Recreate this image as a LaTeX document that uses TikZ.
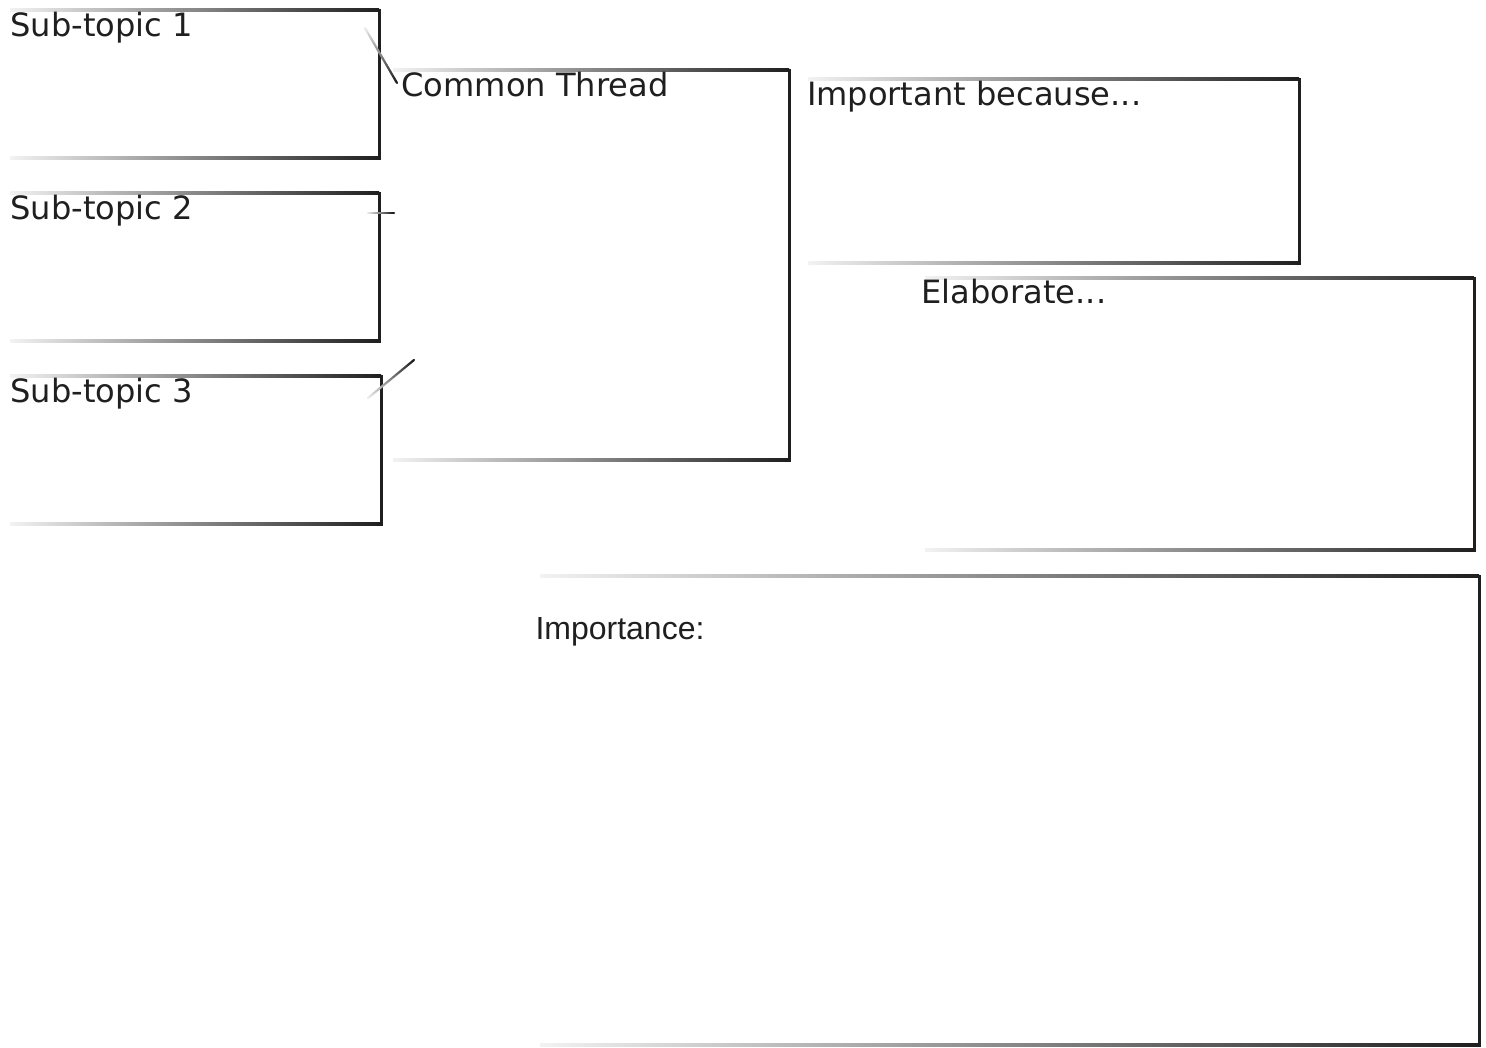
\documentclass[tikz,border=0pt]{standalone}
\usepackage{fontspec}
\setmainfont{DejaVu Sans}
\newfontfamily\arialfont{Liberation Sans}
\usetikzlibrary{calc}
\tikzset{
  boxarea/.style={draw=none, inner sep=0pt, outer sep=0pt, rectangle},
  edgeshade/.style={left color=black!5, middle color=black!40, right color=black!88},
  labeltext/.style={inner sep=0pt, outer sep=0pt, anchor=base west, font=\fontsize{32.1}{38}\selectfont, text=black!88},
  arialtext/.style={inner sep=0pt, outer sep=0pt, anchor=base west, font=\arialfont\fontsize{32}{38}\selectfont, text=black!88},
}
\newcommand\gradbox[5]{%
  \node[boxarea, minimum width={#4-#2}, minimum height={#5-#3}] (#1) at ({(#2+#4)/2},{(#3+#5)/2}) {};
  \shade[edgeshade] ($(#1.north west)+(0,-1.5)$) rectangle ($(#1.north east)+(0,1.5)$);
  \shade[edgeshade] ($(#1.south west)+(0,-1.5)$) rectangle ($(#1.south east)+(0,1.5)$);
  \fill[black!88] ($(#1.north east)+(-1.5,-1.5)$) rectangle ($(#1.south east)+(1.5,1.5)$);
}
\newcommand\gradline[2]{%
  \foreach \i in {0,...,23}{%
    \pgfmathtruncatemacro\cc{8+80*\i/23}%
    \draw[line width=2.2pt, line cap=round, black!\cc] ($(#1)!{\i/24}!(#2)$) -- ($(#1)!{(\i+1)/24}!(#2)$);
  }%
}
\begin{document}
\begin{tikzpicture}[x=1pt, y=-1pt]
  \useasboundingbox[fill=white] (0,0) rectangle (1486,1047);

  % boxes
  \gradbox{s1}{10}{10}{379}{158}
  \gradbox{s2}{10}{193}{379}{341}
  \gradbox{s3}{10}{376}{381}{524}
  \gradbox{ct}{393}{70}{789}{460}
  \gradbox{ib}{808}{79}{1299}{263}
  \gradbox{el}{925}{278}{1474}{550}
  \gradbox{im}{540}{576}{1479}{1045}

  % labels
  \node[labeltext] (t1) at (10.5,36) {Sub-topic 1};
  \node[labeltext] (t2) at (10.5,219) {Sub-topic 2};
  \node[labeltext] (t3) at (10.5,402) {Sub-topic 3};
  \node[labeltext] (tct) at (401.5,96) {Common Thread};
  \node[labeltext] (tib) at (807,105) {Important because{.}{.}{.}\kern1pt};
  \node[labeltext] (tel) at (921.5,303) {Elaborate...};
  \node[arialtext] (tim) at (535.5,639) {Importance:};

  % connectors
  \coordinate (c1a) at (365,28);
  \coordinate (c1b) at (397,83);
  \coordinate (c2a) at (368,213);
  \coordinate (c2b) at (394,213);
  \coordinate (c3a) at (368,398);
  \coordinate (c3b) at (414,360);
  \gradline{c1a}{c1b}
  \gradline{c2a}{c2b}
  \gradline{c3a}{c3b}
\end{tikzpicture}
\end{document}
